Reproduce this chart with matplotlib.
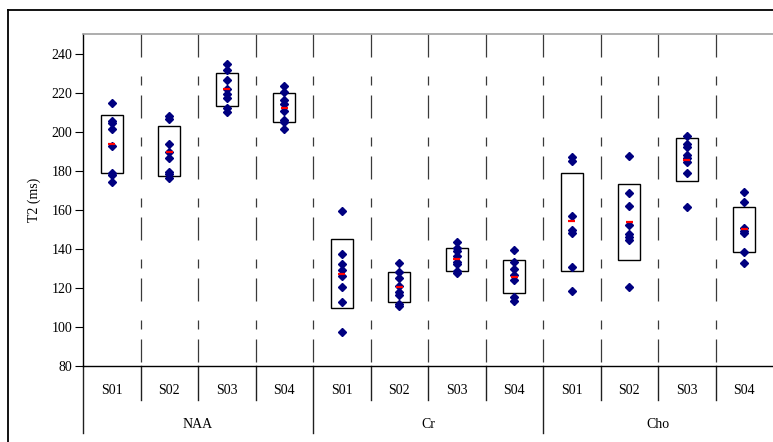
import matplotlib
matplotlib.use("Agg")
import matplotlib.pyplot as plt
from matplotlib.patches import Rectangle
from matplotlib.lines import Line2D
import matplotlib.transforms as mtransforms

plt.rcParams['font.family'] = ['Liberation Serif', 'DejaVu Serif']

# metabolites and subjects
groups = ["NAA", "Cr", "Cho"]
subjects = ["S01", "S02", "S03", "S04"]

# individual T2 values (ms), one list per metabolite/subject
naa_vals = [
    [214.8, 205.5, 204.5, 201.4, 192.5, 178.7, 177.9, 174.1],
    [208.2, 206.6, 193.9, 189.8, 186.7, 179.2, 178.2, 176.5],
    [234.8, 231.6, 226.3, 221.7, 219.1, 217.0, 211.9, 210.2],
    [223.4, 220.5, 216.4, 214.0, 210.6, 206.1, 205.0, 201.2],
]
cr_vals = [
    [159.3, 137.4, 132.3, 129.3, 126.3, 120.7, 112.9, 97.4],
    [132.7, 128.2, 125.0, 121.0, 118.0, 116.5, 112.0, 110.5],
    [143.7, 140.2, 139.0, 136.4, 133.5, 132.2, 128.7, 127.6],
    [139.5, 133.0, 129.6, 126.7, 124.1, 115.1, 113.2],
]
cho_vals = [
    [187.0, 185.0, 156.9, 149.6, 148.3, 130.8, 118.2],
    [187.7, 168.5, 162.1, 152.1, 147.8, 146.3, 144.6, 120.4],
    [197.6, 193.5, 192.0, 188.0, 186.5, 184.7, 178.7, 161.6],
    [169.2, 163.9, 150.6, 149.2, 148.0, 138.5, 132.7],
]

# mean and box (mean +/- sd)
means = [193.9, 189.8, 221.7, 212.3,
         127.2, 120.7, 134.7, 125.7,
         154.0, 153.8, 185.7, 150.2]
box_low = [179.0, 177.3, 213.0, 204.8,
           109.7, 112.7, 128.7, 117.5,
           128.6, 134.2, 174.8, 138.5]
box_high = [208.5, 203.1, 229.9, 220.0,
            144.9, 128.1, 140.5, 134.4,
            178.9, 173.4, 196.6, 161.6]

all_vals = naa_vals + cr_vals + cho_vals

W, H = 773, 442
fig = plt.figure(figsize=(W / 100, H / 100), dpi=100)
fig.patch.set_facecolor("white")

# outer frame (top and left edges visible)
fig.add_artist(Line2D([8 / W, 8 / W], [0, 1 - 10 / H], color="black", lw=1.3))
fig.add_artist(Line2D([8 / W, 1], [1 - 10 / H, 1 - 10 / H], color="black", lw=1.3))

left, right, top, bottom = 83, 773, 34, 366
ax = fig.add_axes([left / W, 1 - bottom / H, (right - left) / W, (bottom - top) / H])
ax.set_xlim(0, 12)
ax.set_ylim(80, 250)

ax.spines["right"].set_visible(False)
ax.spines["top"].set_color("#a0a0a0")
ax.spines["top"].set_linewidth(1.2)
ax.spines["left"].set_color("black")
ax.spines["bottom"].set_color("black")
ax.spines["left"].set_linewidth(1.0)
ax.spines["bottom"].set_linewidth(1.0)

ax.set_yticks(range(80, 241, 20))
ax.tick_params(axis="y", direction="out", length=5.5, width=0.8, labelsize=10, pad=2)
ax.set_xticks([])
ax.set_ylabel("T2 (ms)", fontsize=10, labelpad=8)

# dashed separators between subjects, drawn from the top down
px = 0.72  # points per pixel
lw = 0.9
dash = tuple(v * px / lw for v in (23, 19, 9, 10))
for i in range(1, 12):
    ax.plot([i, i], [250, 80], color="#3a3a3a", lw=lw, dashes=dash, zorder=1)

# separators and labels below the axis
trans = mtransforms.blended_transform_factory(ax.transData, ax.transAxes)
ah = bottom - top
for i in range(0, 12):
    y_end = -67 / ah if i % 4 == 0 else -34 / ah
    ax.plot([i, i], [0, y_end], transform=trans, color="#202020", lw=1.0, clip_on=False)

for g, gname in enumerate(groups):
    for s, sname in enumerate(subjects):
        ax.text(g * 4 + s + 0.5, -25 / ah, sname, transform=trans, ha="center", va="center", fontsize=10)
    ax.text(g * 4 + 2, -58 / ah, gname, transform=trans, ha="center", va="center", fontsize=10)

# boxes, points and means
bw = 22 / 57.5
mw = 7 / 57.5
for k, vals in enumerate(all_vals):
    c = k + 0.5
    ax.add_patch(Rectangle((c - bw / 2, box_low[k]), bw, box_high[k] - box_low[k],
                           facecolor="none", edgecolor="black", lw=1.0, zorder=2))
    ax.plot([c] * len(vals), vals, linestyle="none", marker="D", markersize=3.6,
            color="#000080", zorder=3)
    ax.plot([c - mw / 2, c + mw / 2], [means[k], means[k]], color="red", lw=1.6,
            solid_capstyle="butt", zorder=4)

fig.savefig("out.png", dpi=100)
